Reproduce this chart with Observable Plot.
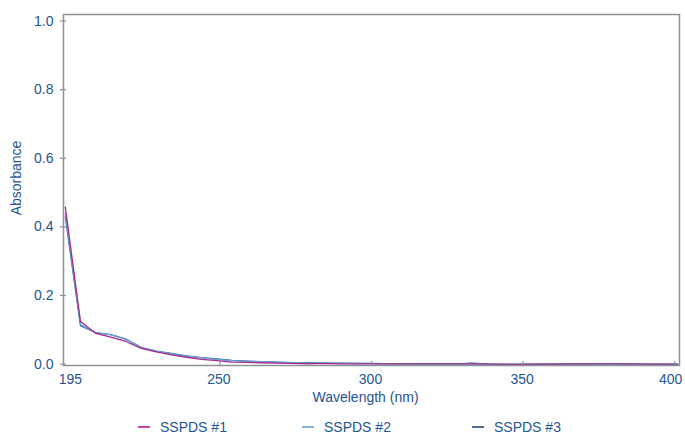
<!DOCTYPE html>
<html>
<head>
<meta charset="utf-8">
<script src="https://cdn.jsdelivr.net/npm/d3@7"></script>
<script src="https://cdn.jsdelivr.net/npm/@observablehq/plot@0.6"></script>
<style>
  body { margin: 0; background: #fff; font-family: "Liberation Sans", Arial, sans-serif; }
  #wrap { position: relative; width: 685px; height: 435px; }
  .leg { position: absolute; top: 419px; font-size: 14px; color: #1f5591; display: flex; align-items: center; white-space: nowrap; }
  .sw { display: inline-block; width: 12px; height: 2px; margin-right: 10px; }
</style>
</head>
<body>
<div id="wrap"></div>
<script>
const seriesNames = ["SSPDS #1", "SSPDS #2", "SSPDS #3"];
const seriesColors = ["#a92a8e", "#6aa6d8", "#2c5b8e"];
const wavelengths = [199, 204, 209, 214, 219, 224, 229, 234, 239, 244, 249, 254, 259, 264, 269, 274, 279, 284, 289, 299, 309, 319, 329, 333, 339, 349, 359, 369, 379, 384, 389, 401];
const sspds1 = [0.458, 0.124, 0.090, 0.079, 0.066, 0.046, 0.036, 0.027, 0.020, 0.014, 0.010, 0.006, 0.005, 0.004, 0.003, 0.002, 0.001, 0.002, 0.001, 0.001, 0.001, 0.001, 0.001, 0.001, 0.000, -0.001, 0.000, 0.001, 0.001, 0.001, 0.000, -0.001];
const sspds2 = [0.440, 0.115, 0.092, 0.085, 0.072, 0.048, 0.038, 0.030, 0.023, 0.018, 0.014, 0.010, 0.008, 0.007, 0.005, 0.004, 0.003, 0.003, 0.002, 0.001, 0.001, 0.000, 0.000, 0.001, 0.000, 0.000, 0.001, 0.001, 0.000, 0.001, 0.000, 0.000];
const sspds3 = [0.430, 0.112, 0.092, 0.086, 0.073, 0.049, 0.038, 0.031, 0.024, 0.019, 0.015, 0.011, 0.009, 0.007, 0.006, 0.004, 0.004, 0.003, 0.003, 0.002, 0.001, 0.001, 0.001, 0.003, 0.000, -0.001, 0.001, 0.000, 0.000, 0.001, 0.000, 0.000];
const yTicks = [0, 0.2, 0.4, 0.6, 0.8, 1.0];
const xTicks = [250, 300, 350, 400];
const xFirstLabel = "195";
const xFirstLabelPos = 200.7;
const yTitle = "Absorbance";
const xTitle = "Wavelength (nm)";

const allSeries = [sspds1, sspds2, sspds3];
// draw order: #3, #2, #1 (magenta on top)
const rows = [];
[2, 1, 0].forEach(s => {
  wavelengths.forEach((w, i) => rows.push({series: seriesNames[s], w, a: allSeries[s][i]}));
});

const textColor = "#1f5591";
const frameColor = "#8d9297";

const chart = Plot.plot({
  width: 685,
  height: 410,
  marginLeft: 63,
  marginRight: 6,
  marginTop: 14,
  marginBottom: 45,
  style: {fontFamily: "'Liberation Sans', Arial, sans-serif", fontSize: "14px", color: textColor, background: "#fff", overflow: "visible"},
  x: {domain: [198.4, 401.6], label: null},
  y: {domain: [-0.004, 1.019], label: null},
  color: {domain: seriesNames, range: seriesColors},
  marks: [
    Plot.line(rows, {x: "w", y: "a", z: "series", stroke: "series", strokeWidth: 1.3, curve: "linear"}),
    Plot.frame({stroke: frameColor, strokeWidth: 1.5}),
    Plot.axisY({ticks: yTicks, tickSize: 6, dx: 3, tickFormat: () => "", stroke: frameColor, strokeWidth: 1.2, label: null}),
    Plot.axisY({ticks: yTicks, tickSize: 0, tickPadding: 10, tickFormat: d => d.toFixed(1), fill: textColor, label: null}),
    Plot.axisX({ticks: xTicks, tickSize: 4, dy: -4, tickFormat: () => "", stroke: frameColor, strokeWidth: 1.2, label: null}),
    Plot.axisX({ticks: xTicks.slice(0, -1), tickSize: 0, tickPadding: 9, dx: -1, tickFormat: d => String(d), fill: textColor, label: null}),
    Plot.axisX({ticks: xTicks.slice(-1), tickSize: 0, tickPadding: 9, dx: -4, tickFormat: d => String(d), fill: textColor, label: null}),
    Plot.axisX({ticks: [xFirstLabelPos], tickSize: 0, tickPadding: 9, tickFormat: () => xFirstLabel, fill: textColor, label: null}),
    Plot.text([yTitle], {text: d => d, frameAnchor: "left", textAnchor: "middle", dx: -47, dy: -12, rotate: -90, fill: textColor, fontSize: 14}),
    Plot.text([xTitle], {text: d => d, frameAnchor: "bottom", textAnchor: "middle", dx: -6, dy: 36, fill: textColor, fontSize: 14})
  ]
});
const wrap = document.getElementById("wrap");
wrap.appendChild(chart);

const legendX = [138, 302, 472];
const swatchColors = ["#c84aa4", "#7fb2de", "#4d7099"];
seriesNames.forEach((n, i) => {
  const d = document.createElement("div");
  d.className = "leg";
  d.style.left = legendX[i] + "px";
  d.innerHTML = `<span class="sw" style="background:${swatchColors[i]}"></span><span>${n}</span>`;
  wrap.appendChild(d);
});
</script>
</body>
</html>
